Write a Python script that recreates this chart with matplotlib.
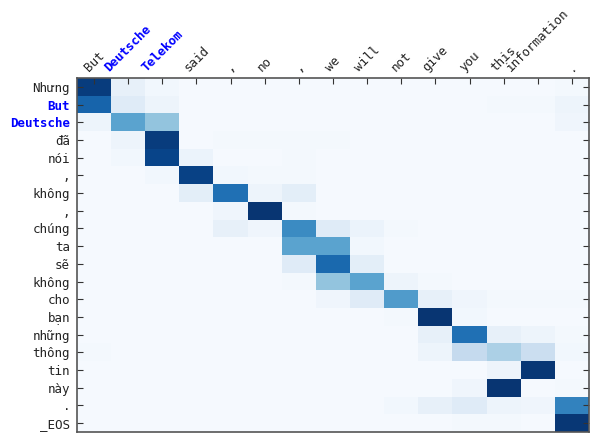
import numpy as np
import matplotlib
matplotlib.use("Agg")
import matplotlib.pyplot as plt

src_labels = ["But", "Deutsche", "Telekom", "said", ",", "no", ",", "we", "will",
              "not", "give", "you", "this", "information", "."]
tgt_labels = ["Nhưng", "But", "Deutsche", "đã", "nói", ",", "không", ",", "chúng",
              "ta", "sẽ", "không", "cho", "bạn", "những", "thông", "tin", "này", ".", "_EOS"]
src_highlight = [1, 2]
tgt_highlight = [1, 2]

attn_rows = [
    [0.95, 0.08, 0.03, 0.01, 0.01, 0.01, 0.01, 0.01, 0.01, 0.01, 0.01, 0.01, 0.01, 0.01, 0.02],
    [0.80, 0.12, 0.05, 0.01, 0.01, 0.01, 0.01, 0.01, 0.01, 0.01, 0.01, 0.01, 0.02, 0.02, 0.05],
    [0.05, 0.55, 0.40, 0.01, 0.01, 0.01, 0.01, 0.01, 0.01, 0.01, 0.01, 0.01, 0.01, 0.01, 0.04],
    [0.01, 0.05, 0.95, 0.01, 0.02, 0.02, 0.02, 0.02, 0.01, 0.01, 0.01, 0.01, 0.01, 0.01, 0.01],
    [0.01, 0.03, 0.92, 0.06, 0.01, 0.01, 0.02, 0.01, 0.01, 0.01, 0.01, 0.01, 0.01, 0.01, 0.01],
    [0.01, 0.01, 0.03, 0.93, 0.03, 0.02, 0.02, 0.01, 0.01, 0.01, 0.01, 0.01, 0.01, 0.01, 0.01],
    [0.01, 0.01, 0.01, 0.10, 0.75, 0.05, 0.10, 0.01, 0.01, 0.01, 0.01, 0.01, 0.01, 0.01, 0.01],
    [0.01, 0.01, 0.01, 0.01, 0.04, 0.98, 0.02, 0.01, 0.01, 0.01, 0.01, 0.01, 0.01, 0.01, 0.01],
    [0.01, 0.01, 0.01, 0.01, 0.08, 0.04, 0.65, 0.12, 0.06, 0.02, 0.01, 0.01, 0.01, 0.01, 0.01],
    [0.01, 0.01, 0.01, 0.01, 0.01, 0.01, 0.55, 0.55, 0.03, 0.01, 0.01, 0.01, 0.01, 0.01, 0.01],
    [0.01, 0.01, 0.01, 0.01, 0.01, 0.01, 0.12, 0.78, 0.10, 0.01, 0.01, 0.01, 0.01, 0.01, 0.01],
    [0.01, 0.01, 0.01, 0.01, 0.01, 0.01, 0.02, 0.40, 0.55, 0.05, 0.02, 0.01, 0.01, 0.01, 0.01],
    [0.01, 0.01, 0.01, 0.01, 0.01, 0.01, 0.01, 0.04, 0.12, 0.58, 0.08, 0.04, 0.02, 0.02, 0.02],
    [0.01, 0.01, 0.01, 0.01, 0.01, 0.01, 0.01, 0.01, 0.01, 0.02, 0.98, 0.03, 0.01, 0.01, 0.01],
    [0.01, 0.01, 0.01, 0.01, 0.01, 0.01, 0.01, 0.01, 0.01, 0.01, 0.08, 0.75, 0.08, 0.05, 0.02],
    [0.02, 0.01, 0.01, 0.01, 0.01, 0.01, 0.01, 0.01, 0.01, 0.01, 0.05, 0.25, 0.33, 0.22, 0.03],
    [0.01, 0.01, 0.01, 0.01, 0.01, 0.01, 0.01, 0.01, 0.01, 0.01, 0.01, 0.01, 0.05, 0.97, 0.01],
    [0.01, 0.01, 0.01, 0.01, 0.01, 0.01, 0.01, 0.01, 0.01, 0.01, 0.01, 0.04, 0.98, 0.01, 0.02],
    [0.01, 0.01, 0.01, 0.01, 0.01, 0.01, 0.01, 0.01, 0.01, 0.03, 0.08, 0.12, 0.05, 0.04, 0.68],
    [0.01, 0.01, 0.01, 0.01, 0.01, 0.01, 0.01, 0.01, 0.01, 0.01, 0.01, 0.02, 0.02, 0.01, 0.97],
]

attn = np.array(attn_rows)

plt.rcParams['font.family'] = ['DejaVu Sans Mono', 'DejaVu Sans']
fig = plt.figure(figsize=(5.91, 4.34), dpi=100)
ax = fig.add_axes([77/591, 2/434, 512/591, 354/434])
ax.imshow(attn, cmap='Blues', aspect='auto', interpolation='nearest', vmin=0, vmax=1)

ax.set_xticks(range(len(src_labels)))
ax.set_yticks(range(len(tgt_labels)))
ax.xaxis.tick_top()
ax.set_xticklabels(src_labels, rotation=45, fontsize=9)
ax.set_yticklabels(tgt_labels, fontsize=9)
ax.tick_params(axis='x', top=True, bottom=False, direction='in', length=4, pad=3, colors='#333333', labelcolor='#222222')
ax.tick_params(axis='y', left=True, right=True, direction='in', length=4, pad=5, colors='#333333', labelcolor='#222222')

for i, lbl in enumerate(ax.get_xticklabels()):
    if i in src_highlight:
        lbl.set_color('blue')
        lbl.set_fontweight('bold')
for i, lbl in enumerate(ax.get_yticklabels()):
    if i in tgt_highlight:
        lbl.set_color('blue')
        lbl.set_fontweight('bold')

for sp in ax.spines.values():
    sp.set_color('#555555')
    sp.set_linewidth(1.2)

fig.savefig('out.png', dpi=100)
